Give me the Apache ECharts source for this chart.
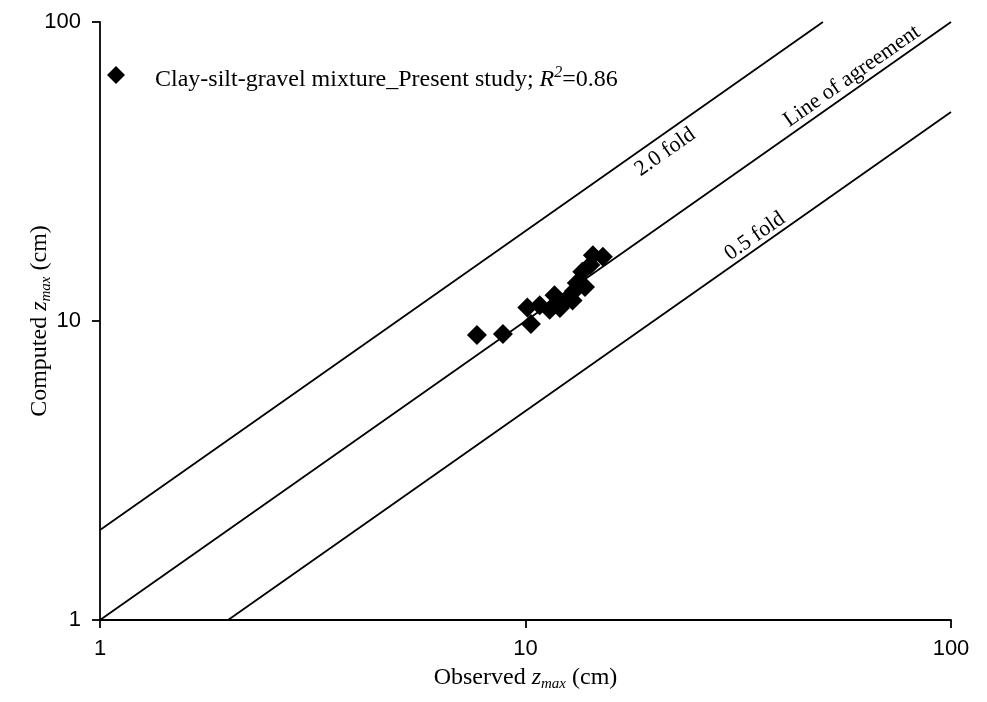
<!DOCTYPE html>
<html>
<head>
<meta charset="utf-8">
<script src="https://cdn.jsdelivr.net/npm/echarts@6/dist/echarts.min.js"></script>
<style>
  html, body { margin: 0; padding: 0; background: #fff; }
  #chart { width: 987px; height: 702px; }
</style>
</head>
<body>
<div id="chart"></div>
<script>
// Observed vs computed maximum scour depth (cm)
const observed = [7.69, 8.85, 10.3, 10.1, 10.8, 11.7, 11.4, 12.05, 12.9, 13.2, 13.6, 13.8, 14.4, 15.2, 14.2, 12.4, 13.0];
const computed = [8.98, 9.05, 9.77, 11.1, 11.3, 12.2, 10.9, 11.05, 11.7, 13.4, 14.6, 13.0, 16.6, 16.4, 15.4, 11.7, 12.6];

// Reference lines: 2.0 fold, 1:1 agreement, 0.5 fold
const twoFold = [[1, 2], [50, 100]];
const agreement = [[1, 1], [100, 100]];
const halfFold = [[2, 1], [100, 50]];

// Text placed along the reference lines
const lineLabels = [
  { text: '2.0 fold', at: [21.3, 36.7] },
  { text: 'Line of agreement', at: [58.5, 65.9] },
  { text: '0.5 fold', at: [34.6, 19.2] }
];

const axisTicks = [1, 10, 100];
const seriesName = 'Clay-silt-gravel mixture_Present study; R2=0.86';

const serif = '"Liberation Serif", "Times New Roman", serif';
const sans = '"Liberation Sans", Arial, sans-serif';

const chart = echarts.init(document.getElementById('chart'), null, { renderer: 'canvas' });

const refLine = (data) => ({
  type: 'line',
  data: data,
  symbol: 'none',
  silent: true,
  lineStyle: { color: '#000', width: 1.8 },
  z: 1
});

const axisCommon = {
  type: 'log',
  logBase: 10,
  min: axisTicks[0],
  max: axisTicks[axisTicks.length - 1],
  splitLine: { show: false },
  minorTick: { show: false },
  axisLine: { lineStyle: { color: '#000', width: 1.8 } },
  axisTick: { show: true, length: 8, inside: false, lineStyle: { color: '#000', width: 1.8 } },
  axisLabel: { color: '#000', fontSize: 22, fontFamily: sans },
  nameLocation: 'middle',
  nameMoveOverlap: false,
  nameTextStyle: {
    color: '#000',
    fontFamily: serif,
    fontSize: 24,
    rich: {
      n: { fontFamily: serif, fontSize: 24, color: '#000' },
      i: { fontFamily: serif, fontSize: 24, fontStyle: 'italic', color: '#000' },
      s: { fontFamily: serif, fontSize: 15, fontStyle: 'italic', color: '#000', padding: [13, 0, 0, 0] }
    }
  }
};

chart.setOption({
  animation: false,
  backgroundColor: '#fff',
  grid: { left: 100, right: 36, top: 22, bottom: 82, containLabel: false },
  legend: {
    left: 102,
    top: 60,
    orient: 'vertical',
    icon: 'diamond',
    itemWidth: 18,
    itemHeight: 18,
    data: [seriesName],
    formatter: function () {
      return '{n|Clay-silt-gravel mixture_Present study; }{i|R}{sup|2}{n|=0.86}';
    },
    textStyle: {
      color: '#000',
      fontFamily: serif,
      fontSize: 24,
      padding: [10, 0, 0, 25],
      rich: {
        n: { fontFamily: serif, fontSize: 24, color: '#000' },
        i: { fontFamily: serif, fontSize: 24, fontStyle: 'italic', color: '#000' },
        sup: { fontFamily: serif, fontSize: 16, fontStyle: 'italic', color: '#000', padding: [0, 0, 14, 0] }
      }
    }
  },
  xAxis: Object.assign({}, axisCommon, {
    name: '{n|Observed }{i|z}{s|max}{n| (cm)}',
    nameGap: 44,
    axisLabel: Object.assign({}, axisCommon.axisLabel, { margin: 18 })
  }),
  yAxis: Object.assign({}, axisCommon, {
    name: '{n|Computed }{i|z}{s|max}{n| (cm)}',
    nameGap: 46,
    axisLabel: Object.assign({}, axisCommon.axisLabel, { margin: 19 })
  }),
  series: [
    refLine(twoFold),
    refLine(agreement),
    refLine(halfFold),
    {
      type: 'scatter',
      silent: true,
      symbolSize: 0,
      z: 2,
      itemStyle: { opacity: 1 },
      data: lineLabels.map(d => ({ value: d.at, name: d.text })),
      label: {
        show: true,
        position: 'inside',
        rotate: 35,
        formatter: p => p.name,
        color: '#000',
        opacity: 1,
        textBorderWidth: 0,
        fontFamily: serif,
        fontSize: 22,
        align: 'center',
        verticalAlign: 'middle'
      }
    },
    {
      name: seriesName,
      type: 'scatter',
      symbol: 'diamond',
      symbolSize: 20,
      itemStyle: { color: '#000', opacity: 1 },
      z: 3,
      data: observed.map((x, i) => [x, computed[i]])
    }
  ]
});
</script>
</body>
</html>
